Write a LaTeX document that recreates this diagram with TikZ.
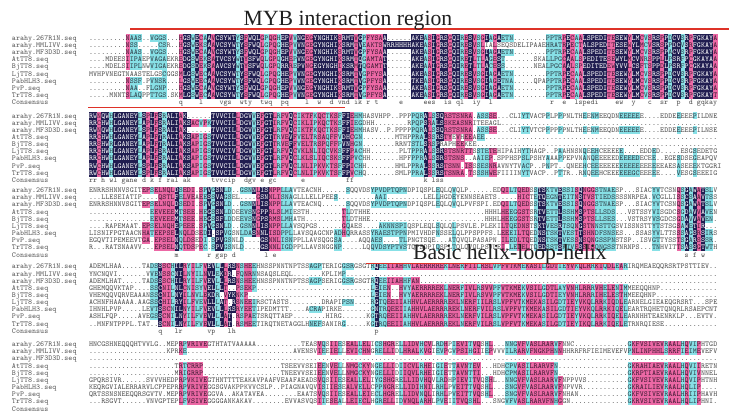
\documentclass[tikz,border=0pt]{standalone}
\usepackage{fontspec}
\setmainfont{Liberation Serif}
\definecolor{nv}{RGB}{32,29,80}
\definecolor{pk}{RGB}{236,104,165}
\definecolor{cy}{RGB}{135,224,230}
\definecolor{txg}{RGB}{80,80,80}
\definecolor{txn}{RGB}{90,90,90}
\definecolor{txp}{RGB}{60,25,50}
\definecolor{txc}{RGB}{45,60,70}
\definecolor{rl}{RGB}{222,50,40}
\makeatletter
\newcount\colno
\newdimen\cx \newdimen\tx \newdimen\ryb \newdimen\rbase
\def\Dx{..........}
\def\popc#1#2\@nil{\def\cc{#1}\def\codes{#2}}
\def\celltext#1{\pgftext[base,at=\pgfqpoint{\tx}{\rbase}]{\color{#1}\ch}}
\def\celltextU{\pgftext[base,at=\pgfqpoint{\tx}{\rbase}]{\color{txg}\expandafter\uppercase\expandafter{\ch}}}
\def\cellfill#1{\pgfsetfillcolor{#1}\pgfpathrectangle{\pgfqpoint{\cx}{\ryb}}{\pgfqpoint{4.3pt}{7.45pt}}\pgfusepath{fill}}
\def\drawcell{%
  \cx=\dimexpr 89pt+4.08pt*\colno\relax
  \tx=\dimexpr\cx+2.04pt\relax
  \if.\ch \celltext{txg}%
  \else
    \ifnum\expandafter`\ch>96\relax \celltextU
    \else
      \if n\cc \cellfill{nv}\celltext{white}%
      \else\if p\cc \cellfill{pk}\celltext{txp}%
      \else\if c\cc \cellfill{cy}\celltext{txc}%
      \else \celltext{txg}%
      \fi\fi\fi
    \fi
  \fi}
\newcommand\blk[1]{\def\blocky{#1}}
\newcommand\seqrow[4]{%
  \pgfmathsetmacro\yc{417-\blocky-(#1-1)*7.15}%
  \ryb=\dimexpr\yc pt-3.72pt\relax
  \rbase=\dimexpr\yc pt-2.4pt\relax
  \pgftext[left,base,at=\pgfqpoint{12pt}{\rbase}]{\color{txn}#2}%
  \global\colno=0
  \edef\codes{#3\Dx\Dx\Dx\Dx}%
  \edef\tmp{\noexpand\@tfor\noexpand\ch:=#4\noexpand\do}%
  \tmp{\expandafter\popc\codes\@nil\drawcell\global\advance\colno by 1 }%
}
\newcommand\conslabel{%
  \pgfmathsetmacro\yc{417-\blocky-9*7.15}%
  \rbase=\dimexpr\yc pt-2.4pt\relax
  \pgftext[left,base,at=\pgfqpoint{12pt}{\rbase}]{\color{txn}Consensus}}
\newcommand\consrow[1]{%
  \conslabel
  \foreach \ccol/\ctxt in {#1}{\cx=\dimexpr 89pt+4.08pt*\ccol\relax
     \pgftext[left,base,at=\pgfqpoint{\cx}{\rbase}]{\color{txg}\ctxt}}%
}
\def\Cone{......... pccc .. cccc ... pnncnpcnpnnnnncnpnnnpcppcnnpcnnppnnnnnnpnnnpncppppn ...... nnncpnpnnpnncpnpcpncpnccc ........ ccccpnpcpnnnnnnppnnnpnnpcpnnpncnncnpnnnnnp}
\def\Conealt{......... pccc .. cccc ... pnncnpcnpnnnnncnpnnnpcppcnnpcnnppnnnnnnpnnnpncppppn nnnnnn nnncpnpnnpnncpnpcpncpnccc ........ ccccpnpcpnnnnnnppnnnpnnpcpnnpncnncnpnnnnnp}
\def\Ctwo{nnpnncnnnnnncnpnpncnnnpnn ppcpc nnnnnnpnnncnpnnpcppnpcpppcppcppcnnpcc ............ cccnpcnnppppppp.cccp p...... cc....c..c.....c.cc.....ccccc...c.....c...c.....}
\def\Cthree{............. ppcpppppncppp.pcncnncc .. cccnpnnpppccc .......... ccpc.....ccccccccc .......c...c........... ppccppp.cnncccncccpnpppccccc ......... cc....pcncnpncc.}
\def\Cfour{............... ccnppcnnpcpccpnncnpnnpcppc .............ccc.....ccc.... cnccp pppcc ppppp pppcp ppcpp pcppp ccppp ppcpp ppcpp pccpp cpppc ppcpp cpc \Dx\Dx..}
\def\Cfive{\Dx\Dx.. pcppppp . \Dx\Dx...... pc.ppc.pppcpp.ccppp.cppppcpp.ccp.cpppcpp.cp ...ccc ppcppppppcp... ............. cppppppppcpppcpccp....}
\makeatother
\tikzset{
  titlefont/.style={font=\rmfamily\fontsize{21.7}{24}\selectfont, text=black!88, inner sep=0pt},
  redline/.style={draw=rl, line width=1.4pt}
}
\begin{document}
\begin{tikzpicture}[x=1pt,y=1pt]
\useasboundingbox (0,0) rectangle (729,417);
\fill[white] (0,0) rectangle (729,417);
\ttfamily\fontsize{7.6}{8}\selectfont
% ---------------- block 1
\blk{38}
\seqrow{1}{arahy.267R1N.seq}{\Cone}{......... NAAS .. VGGS ... HGSWECAAVCSYWTYSFWQLGPQGHEPVVNGEGYNGHIKSRMTVGPFYSAA ...... AKEASIGRSGQIRESVSGIAGAETN ........ PPTRPECAALSPEDITESEWYLMCVSRSPPDCVSRPFGKAYA}
\seqrow{2}{arahy.MMLIVV.seq}{\Conealt}{......... NSS ..... CSR .. HGSWEKSAAVCSYWTYSFWQLGPQGHEPVVNGEGYNGHIKSRMTVEAKTSW RRHHHH AKEASIGRSGQIRESVSLiaLseqs delipaae HRATRPECTALSPEDITESEWYLMCVSRSPPDCVSRFGKAYA}
\seqrow{3}{arahy.MF3D3D.seq}{\Cone}{......... NAAS .. VGGS ... HGSWECAAVCSYWTYSFWQLGPQGHEPVVNGEGYNGHIKSRMTVGPFYSAA ...... AKEASIGRSGQIRESVSGIAGAETN ........ PPTRPECAALSPEDITESEWYLMCVSRSPPACVSRPFGKAYA}
\seqrow{4}{AtTT8.seq}{\Cone}{.... MDEESIIPAEPVAGAEKR EDGSWEKSATVCSYWTYSFWQLGPQGHEPVNGEGYNGHIKSRMTQGAMTAT ...... AKEASIGRSGQIRETLTLAGEST.. ..... SKA LLPGCAALSPEDITESEWYLMCVNRSPPLLPSRFPCGKAYAA}
\seqrow{5}{BjTT8.seq}{\Cone}{.... MDELSIIPLNWVIGAEKR EDGSDEKSAAVCSYWTYSFWQLGPQRRREPVNGEGYNGHIKSRMTQGAMTT ...... AKEAAIGRSGQIRETLTLACESS.. ..... NEA LPGCAALSPEDITEDEWYVVLCSFTSPPDLPSRFPCGKAYAA}
\seqrow{6}{LjTT8.seq}{\Cone}{MVHPVNEGTnaastelgsCGGS MLGSWECAAVCSYWTYSFWQLGPQGHEPVVNGEGYNGHIKSRMTVGPFYSA ...... AKEASIGRSGQIRESVSGIAGAETN ........ PPTRPECAALSPEDITESEWYLMCVSRSPPDCVSRPFGKAYA}
\seqrow{7}{PabHLH3.seq}{\Cone}{......... NSSF . PVNSR ... LGSWEECAAVCSYWTYSFWQLGPQGHEPVVNGEGYNGHIKSRMTVGPFYSA ...... TKEASIGRSGQIRESVSGIAGETNA ..... QPA PPTRPECAALSPEDITESEWYLMCVSRSPPDCVSRPFGKAYA}
\seqrow{8}{PvP.seq}{\Cone}{......... NAA .. FLGNP ... HGSWECAAVCSYWTYSFWQLGPQGHEPVVNGEGYNGHIKSRMTVGPFYSAA ...... AKEASIGRSGQIRESVSGIAGAETN ........ PPTRPECAALSPEDITESEWYLMCVSRSPPDCVSRPFGKAYA}
\seqrow{9}{TrTT8.seq}{\Cone}{..... MNNTSLAQPPTTGS.SK MLGSWECAAVCSYWTYSFWQLGPQGHEPVVNGEGYNGHIKSRMTVGPFYSA ...... AKEASIGRSGQIRESVSGIAGAETN ........ PPTRPECAALSPEDITESEWYLMCVSRSPPDCVSRPFGKAYT}
\consrow{22/q,27/l,32/vgs,37/wty,42/twq,47/pq,53/l,56/w,59/d,61/vnd,65/ik,68/r,70/t,76/e,82/ees,87/is,90/ql,94/iy,98/l,113/r,116/e,119/lspedi,129/ew,133/y,137/c,140/sr,144/p,147/d,149/gqkay}
% ---------------- block 2
\blk{115.7}
\seqrow{1}{arahy.267R1N.seq}{\Ctwo}{RWNQWHLGANEYLSPLFSRALIAK ...... TVVCILLDGVVEFGTLRFVQCIKTFKQCTKSFFIEHM hasvhpp..ppp PQRALSSQRSTSNRA.ASSS E...CLI YTVACPPLPPPNLTHEENMEEQDNEEEEEE....EDDEEEEEPILDNE}
\seqrow{2}{arahy.MMLIVV.seq}{\Ctwo}{RRCHWHLGANEYLAPLFSRALIAKSACVPK TVVCILLDGVVEFGTIRFVQCIKLIPKQCTKSFFIEG dhh........r PQPSRALSSKEASNRiteea gl \Dx\Dx\Dx\Dx\Dx...}
\seqrow{3}{arahy.MF3D3D.seq}{\Ctwo}{RWNQWHLGANEYLSPLFSRALIAK ...... TVVCILLDGVVEFGTLRFVQCIKTFKQCTKSFFIEHM hasv..p.pppp PQRALSSQRSTSNRA.ASSS E...CLI YTVTCPPPPPPNLTHEENMEEQDNEEEEEE....EDDEEEEEPILNSE}
\seqrow{4}{AtTT8.seq}{\Ctwo}{RRCHWHLGANEYLAPLFTRALIAKSAPIGS TVVCILLDGVVEFGTTRVEVFVELTRSAQFFVDHCGN ........mthp PRALSSRSTYeVhEEAEE.. \Dx\Dx\Dx\Dx\Dx.....}
\seqrow{5}{BjTT8.seq}{\Ctwo}{RRSHWRLGANEYLAPLFTRALIAKSAPIGS TVVCILLDGVVEFGTTRVEFFVELTRSPQFFPVNHGN ........rrnt STLSRSPraphEEkee.... \Dx\Dx\Dx\Dx\Dx.....}
\seqrow{6}{LjTT8.seq}{\Ctwo}{RRCHWHLGANEYLAPLFSRALIAKSAPIGS TVVCIVLDGVVEFGTLRFVQCVKLNLIQCVKSFFPAC hh.......plt PPRALSSRSTSNRTTSSTET EHIPAIH YTHAGP..PAAHNSNQEEHCEEEEE....EDDED.....ESGSEDETG}
\seqrow{7}{PabHLH3.seq}{\Ctwo}{RRCHWHLGANEYLAPLFSRALIAKSAPIGS TVVCILLDGVVEFGTLRFVQCLKLSLIQCSKSFFPVC hh.......hpf PPRALSSRSTSNS..AAIEP .SPPHSP SLPSHYAAAPPEPVNANQEEEEEDEEEEDECEE..EGESDSEGEAPQV}
\seqrow{8}{PvP.seq}{\Ctwo}{RWCHWHLGANEYLSPLFSRALIAKSAPIGS TVVCILLDGVVEFGTLRFVQCLNLIPKVKTSFFPICH h.......hmlp PRALSSRSTSNN.ISSSESN RAVNYTV ACP..PNPT..QNEEHCEEEEEEEEEEEEEEEEEEAESASEEEKTGGRI}
\seqrow{9}{TrTT8.seq}{\Ctwo}{RWCHWHLGANEYLSPLFSRALIAKSAPIGS TVVCILLDGVVEFGTLRFVQCLNLIPKVKTSFFPVCH q.......smlp PRALSSRSTSNRA.TSSSHW EFIIIIN YTVACP..PTTR..RNQEEHCEEEEEEGCEEEEE....VESGSEEEIG}
\consrow{0/rr,3/h,5/wl,8/gane,13/d,15/k,17/f,19/ral,23/ak,30/tvvcip,38/dgv,42/e,44/gc,52/e,63/ff,82/k,84/lss}
% ---------------- block 3
\blk{190.3}
\seqrow{1}{arahy.267R1N.seq}{\Cthree}{ENRRSHNNVSGIT EPSELNQLDSEDI.SPVGSNLD .. GSNNLISNPPLLA VTEACNH... ...SQQVDSYPVDPTQPN DPIQSPLEQLQVQLP......ED QILTQEDSSTSKTVESSISQNGGSTNAE SP...SIAC YVTCSNQSGAWATSLV}
\seqrow{2}{arahy.MMLIVV.seq}{\Cthree}{...LLESEIATIP ....QSTLFELVEAEESSVAGS EL ....GSNNLISNA GLLLELLPEE S.........AAI..... ....LELLHGDEYENNSEAETS. ....HICTETQEGNTEITNSTVSTIEDS SSSNRPEA. VCGLLISSCSAAVTSS}
\seqrow{3}{arahy.MF3D3D.seq}{\Cthree}{ENRRSHNNVSGIT EPSELNQLDSEDI.SPVGSNLD .. GSNNLISNPPLLA VTEACNQ... ...SQQVDSYPVDPTQPN DPIQSPLEQLQVQLPVFSPI.ED QILTQEDSSTSKTVESSISQNGGSTNAE SP...SIAC YVTCSNQSGAWATSLV}
\seqrow{4}{AtTT8.seq}{\Cthree}{............. ..EEVEEEMTSEE.HEGSSNLD DE EVSNGPPRLSLMI ESTH...... ..TLDTHHE......... \Dx.........HHHL HEEGGSTSRTVETTLSSHMSPTSLLSDS ...VSTSSY VISGDCSGDAVVAVEN}
\seqrow{5}{BjTT8.seq}{\Cthree}{............. ..EEVEEEMTSEE.HEGSSFLD DE EVSNGPSRMSLMH ATH....... ..TLDTHHE......... \Dx.........HHHL HEEGGSTSRTVETTLSSHMSPTSLLSES ...VSTRSY VSGDCSGDAVVAVEN.}
\seqrow{6}{LjTT8.seq}{\Cthree}{....RAPEMAAT. EPSELNQHEPEEE.SPVGSNLD .. GSNNLISNPPLLA VSQPGS.... ..GQAES....AKNNSPI QSPLEQLSQLQLPSVLE.PLEKI LTQEDNSTSKTVESRTSQNGSTNNSTTG SVISSNSTT YTSTSGSAWETIR...}
\seqrow{7}{PabHLH3.seq}{\Cthree}{LISNIFPGTAACN HATEEPSELNQLDSEDI.SPVG SN LDASNNLISDPPL LAVSQAGCNP ADHQRRASSYRAESTPPN PMIVHDFNSSELQLPPSPPFS.L EEEILTQEDNSTSKTVESTTSHNDFSNS ES...SSAS YVLTTSSSAGSRSIRS}
\seqrow{8}{PvP.seq}{\Cthree}{EGQVTIPEMEEVT GA.EPSELNQLDSEDI.SPVGS NL D....GSNNLISN PPLLAVSQGG SA....AQQAES....TL PNGTSQE...ATQVQLPASAPN. ILEDLTQEDNSTSKTVESSNSQNGSSPN STSP..ISV GTTYSSTSGARSSSR.}
\seqrow{9}{TrTT8.seq}{\Cthree}{R...RATSNAAVV ...EPSELNQTDSPEC.SPVGS NL D....GSNNLIGD PPLLAVSNGG NP.....LQQVDSYPTVS TQPSDPIQSPLTQLQVQLPSVLE I.LEDELTQEDSSTSKTVESSISQNGSS TNRNPS... TNHVITTSASSGTWTH}
\consrow{21/m,29/r,31/gsp,35/d,43/l,45/e,146/s,148/f,150/w}
% ---------------- block 4
\blk{266.5}
\seqrow{1}{arahy.267R1N.seq}{\Cfour}{ADEMLHAA.....TA DSSSCHILRYILFVEVLLLRSNSHEE HNSSPNNTNPTSSAGPTERIGGSRGSGT RQEEIIAHHVLAERRRREKLNERFIILRSLVPFVTKMEKASILGDTIEYVKQLRRKIQDLEAR IRQMEAEQQRSRTPSTTIEV..}
\seqrow{2}{arahy.MMLIVV.seq}{\Cfour}{YNCNQVI.......V VENSSCNILNYILNVLEKDR.FQNRN NSAQSLEQL.......KPLIMP...... \Dx\Dx\Dx\Dx\Dx\Dx\Dx\Dx.....}
\seqrow{3}{arahy.MF3D3D.seq}{\Cfour}{ADEMLHAT.....TA DSSSCHILRYILFVEVLLLRSNSHEE HNSSPNNTNPTSSAGPSERIGGSRGSGT RQEEIIAHHFAN \Dx\Dx\Dx\Dx\Dx\Dx\Dx...}
\seqrow{4}{AtTT8.seq}{\Cfour}{GHEMQQVKTAP.... SSCNILNLCNISYVELLLT..PSEKP \Dx\Dx........ LEIEN..HVYAERRRREKLNERFIVLRSVVPFVTKMEKVSILGDTLAYVNHLRRRVHELENIM MEEQQHNP\Dx....}
\seqrow{5}{BjTT8.seq}{\Cfour}{VHEMQQVQRVEAAAN SSCNILNYILNVLEKDR.VYKNKP.. \Dx\Dx........ LEIEN..HVYAERRRREKLNERFIVLRSVVPFVTKMEKVSILGDTIEYVNHLRRRIHELESTH MEEQHNP\Dx.....}
\seqrow{6}{LjTT8.seq}{\Cfour}{ACHNFHAAAAA.AAG SSCHILRYILFVEVLLLAT.RSNEEI RSCTASTS........DRAPIPSN.... RGTQEEIIAHHVLAERRRREKLNERFIILRSLVPFVTKMEKASILGDTIEYVKQLRRKIQDLE ARNELGIEAEQGRSRT...SPE}
\seqrow{7}{PabHLH3.seq}{\Cfour}{IHNHLPVP.....LE VTSSCNILNYILFVEVLLLRSRYEET IPEDMTTT....ACRAPIRKE....... GNTRQEEIIAHHVLAERRRREKLNERFVILRSLVPFVTKMEKASILGDTIEYVKQLRRKIQEL EARTRQHETQNQRLRSAEPCNT}
\seqrow{8}{PvP.seq}{\Cfour}{ASHLFQP.....AVE GSSCNILNYILFVEVLLLAT.RSPAE TSRQTTAEP........HIRG......K GTRQEEIIAHHVLAERRRREKLNERFVILRSLVPFVTKMEKASILGDTIEYVKQLRRKIQELE ARNHHTEAENRKLP...EVTV.}
\seqrow{9}{TrTT8.seq}{\Cfour}{..MNFNTPPPL.TAT ..SCNILNYILFVEVLLLAT.RSMEE TIRQTNETAGGLHNEFSANIRG.....K GTRQEEIIAHHVLAERRRREKLNERFVILRSLVPFVTKMEKASILGDTIEYIKQLRRKIQELE TRNRQIESE\Dx...}
\consrow{17/q,21/lr,29/vp,34/lh,70/p}
% ---------------- block 5
\blk{344.3}
\seqrow{1}{arahy.267R1N.seq}{\Cfive}{HNCGSHNEQQQHTVVLG.. MEPRPVRIVEG THTATVAAAAA...........TEAS VQSIIESEALLELICSHGRELLIDVHCVLRDHPIEVITVQSHL ...NNG VFVASLRARVFNNC ............. GKFVSIVEVRAALHQVIPHTGD}
\seqrow{2}{arahy.MMLIVV.seq}{\Cfive}{\Dx......... KPRKE...... \Dx\Dx AVENSV IEEIELLEVICHNGRELLIDLHRALKVGIEVPGVPSIHGIIEP VVVILR ARVFNGKPHNNHHR RFRFIEIMEVEFV PNLINPHHLSRRFIEIMEVEFV}
\seqrow{3}{arahy.MF3D3D.seq}{\Cfive}{\Dx\Dx\Dx\Dx\Dx\Dx\Dx\Dx\Dx\Dx\Dx\Dx\Dx\Dx\Dx....}
\seqrow{4}{AtTT8.seq}{\Cfive}{\Dx......... ..TRTCRRP.. \Dx.......TSEEVVSEI EENVELLNMGCKYNGELLIDIICVLRHEIGIETTAVNTEV... HDHCPV ASILRARVFN.... ............. GKRAHIAEVRAALHQVIIRETN}
\seqrow{5}{BjTT8.seq}{\Cfive}{\Dx......... ..MRIGRRP.. \Dx.......TNEEVVSEI EENVELLNMGCKYNGELLIDIIQVLRHEIGIETTAVNTTI... HDHCPM ASILRARVFN.... ............. GKRPTIAEVRAALHQVIVNNEL}
\seqrow{6}{LjTT8.seq}{\Cfive}{GPQRSIVR......SVVVH EDPRPVKIVEG THNTTTTEAKAVPAAFVEAAFAEADS VQSIIESEALLELIYGSHGRELLIDVHQVLRDHPIEVITVQSH L..NNG VFVASLRARVFNPP VVS.......... GKFVSIVEVRAALHQVIPHTNH}
\seqrow{7}{PabHLH3.seq}{\Cfive}{KEQRGVIALERRARVLCPP EPRRPVRIVEG GSGVAKPPKVVCSLP..PIAGNAVQV ISIIESEALVELLCPPNGRELLIDIHNILRHLPVEITTVQSHL ...SNG VFVASLRARVFNPV VR........... GKRAILIEVRAALHQLIP....}
\seqrow{8}{PvP.seq}{\Cfive}{QRTSSNSNEEQQRSGVTV. MEPRPVRIVEG GVA..AKATAVEA........EAATS VQSIIESEALLEIECLHGRELLIDVNQLIRHLPVEITTVQSHL ...SNG VFVASLRARVFNHA N............ GKFVSIVEVRAALHRIIPHAVH}
\seqrow{9}{TrTT8.seq}{\Cfive}{...RSGVT......VNVGP TEPLFVSIVEG GGGANKAKAV........EVVASVQS IIESEALLEIECLHGRELLIDVNQLARHLPVEIITVQSHL... SNGVFV ASLRARVFNHGGN. ............. GKRVSIVEVRAALHQLIPHNI.}
\conslabel
% ---------------- annotations
\coordinate (r1a) at (130,388); \coordinate (r1b) at (729,388);
\coordinate (r2a) at (88,309.5); \coordinate (r2b) at (345,309.5);
\coordinate (r3a) at (366,153.5); \coordinate (r3b) at (610,153.5);
\draw[redline] (r1a) -- (r1b);
\draw[redline] (r2a) -- (r2b);
\draw[redline] (r3a) -- (r3b);
\node[titlefont, anchor=base] (t1) at (348,391.5) {MYB interaction region};
\node[titlefont, anchor=base west] (t2) at (413,157) {Basic helix-loop-helix};
\end{tikzpicture}
\end{document}
